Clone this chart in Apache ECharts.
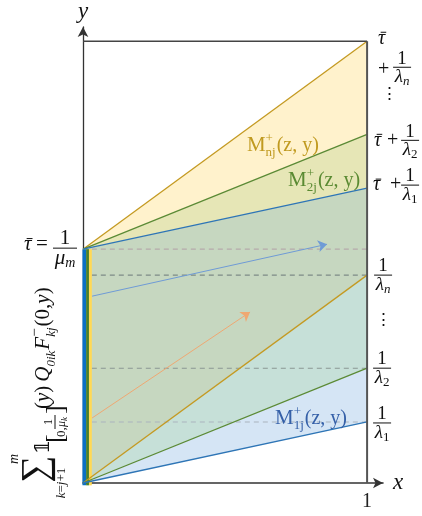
<!DOCTYPE html>
<html><head><meta charset="utf-8">
<script src="https://cdn.jsdelivr.net/npm/echarts@6/dist/echarts.min.js"></script>
<style>html,body{margin:0;padding:0;background:#fff}#c{width:422px;height:516px}</style>
</head><body><div id="c"></div>
<script>
// ---- data ----
const tauBar = 1.0;                       // τ̄ = 1/μm
const bandKeys = ['n', '2', '1'];
const invLambda = [0.889, 0.491, 0.261];  // 1/λn, 1/λ2, 1/λ1
const dashLevels = [1.0, 0.889, 0.491, 0.261];
const arrowBlue = [[0.032, 0.799], [0.859, 1.021]];
const arrowOrange = [[0.032, 0.278], [0.588, 0.731]];
const barEdges = [-0.002, 0.011, 0.021, 0.031];
const barBottom = -0.01;
const labelAnchors = [[0.577, 1.415], [0.722, 1.265], [0.676, 0.248]];
const xAxisMax = 1.056, yAxisMax = 1.95;

// ---- styles ----
const barColors = ['#0a6fc4', '#4a7f2a', '#ffd955'];
const lineColors = ['#c49a22', '#5b8a35', '#2e75b6'];
const labelColors = ['#c09a20', '#5a8a32', '#3560a8'];
const dashColors = ['#b5aaaa', '#7d8b86', '#8b9693', '#aab3bd'];
const SERIF = '"Liberation Serif","DejaVu Serif",serif';

const T = tauBar, an = invLambda[0], a2 = invLambda[1], a1 = invLambda[2];
const yTop = T + an;
const regions = [
  {pts: [[0, T], [1, T + an], [1, T + a2]], color: '#fff2cc'},
  {pts: [[0, T], [1, T + a2], [1, T + a1]], color: '#e6e6b6'},
  {pts: [[0, 0], [0, T], [1, T + a1], [1, an]], color: '#c6d7c0'},
  {pts: [[0, 0], [1, an], [1, a2]], color: '#c6e0d8'},
  {pts: [[0, 0], [1, a2], [1, a1]], color: '#d5e5f5'}
];
const bars = barColors.map((c, i) => ({pts: [[barEdges[i], barBottom], [barEdges[i + 1], barBottom], [barEdges[i + 1], T], [barEdges[i], T]], color: c}));

function polySeries(list, z) {
  return {type: 'custom', coordinateSystem: 'cartesian2d', silent: true, z: z, clip: false,
    data: list.map(r => r.pts[0]),
    renderItem: (params, api) => {
      const r = list[params.dataIndex];
      return {type: 'polygon', shape: {points: r.pts.map(p => api.coord(p))}, style: {fill: r.color}};
    }};
}
function lineS(data, color, width, z, dash) {
  return {type: 'line', data: data, symbol: 'none', silent: true, z: z,
    lineStyle: {color: color, width: width, type: dash ? [5, 4] : 'solid'}};
}

const series = [polySeries(regions, 1)];
dashLevels.forEach((v, i) => series.push(lineS([[barEdges[3], v], [1, v]], dashColors[i], 1.1, 3, true)));
series.push(polySeries(bars, 4));
invLambda.forEach((a, i) => {
  series.push(lineS([[0, T], [1, T + a]], lineColors[i], 1.3, 5));
  series.push(lineS([[0, 0], [1, a]], lineColors[i], 1.3, 5));
});
series.push(lineS([[0, yTop], [1, yTop]], '#444', 1.5, 5));
series.push(lineS([[1, 0], [1, yTop]], '#555', 2, 5));
series.push({type: 'lines', coordinateSystem: 'cartesian2d', silent: true, z: 6,
  symbol: ['none', 'arrow'], symbolSize: 9,
  data: [{coords: arrowBlue, lineStyle: {color: '#6f9bd6'}}, {coords: arrowOrange, lineStyle: {color: '#efa872'}}],
  lineStyle: {width: 1, opacity: 1}});

const chart = echarts.init(document.getElementById('c'), null, {renderer: 'canvas'});
chart.setOption({
  animation: false,
  grid: {left: 83, right: 39, top: 27, bottom: 33},
  xAxis: {type: 'value', min: 0, max: xAxisMax, interval: 0.5, splitLine: {show: false}, axisTick: {show: false},
    axisLine: {show: true, symbol: ['none', 'arrow'], symbolSize: [8, 10], lineStyle: {color: '#333', width: 1.6}},
    axisLabel: {formatter: v => (v === 1 ? '1' : ''), fontSize: 20, fontFamily: SERIF, color: '#222', margin: 9, showMaxLabel: false},
    name: 'x', nameLocation: 'end', nameGap: 10,
    nameTextStyle: {fontSize: 23, fontStyle: 'italic', fontFamily: SERIF, color: '#111'}},
  yAxis: {type: 'value', min: 0, max: yAxisMax, splitLine: {show: false}, axisTick: {show: false}, axisLabel: {show: false},
    axisLine: {show: true, symbol: ['none', 'arrow'], symbolSize: [8, 10], lineStyle: {color: '#333', width: 1.3}},
    name: 'y', nameLocation: 'end', nameGap: 4,
    nameTextStyle: {fontSize: 23, fontStyle: 'italic', fontFamily: SERIF, color: '#111'}},
  series: series
});

// ---- math text helpers ----
const ZT = 100;
const mctx = document.createElement('canvas').getContext('2d');
function F(size, it) { return (it ? 'italic ' : '') + size + 'px ' + SERIF; }
function tw(t, size, it) { mctx.font = F(size, it); return mctx.measureText(t).width; }
function TX(x, base, t, size, it, col, align) {
  return {type: 'text', x: x, y: base - 0.3 * size, silent: true, z: ZT,
    style: {text: t, font: F(size, it), fill: col || '#111', align: align || 'left', textAlign: align || 'left',
      verticalAlign: 'middle', textVerticalAlign: 'middle'}};
}
function LN(x1, y1, x2, y2, col, w) {
  return {type: 'line', silent: true, z: ZT, shape: {x1: x1, y1: y1, x2: x2, y2: y2}, style: {stroke: col || '#111', lineWidth: w || 1}};
}
function TAU(x, base, size) {
  const w = tw('τ', size, true);
  return [TX(x, base, 'τ', size, true), LN(x + 0.22 * w + 1, base - 0.6 * size, x + w + 1, base - 0.6 * size, '#111', 1)];
}
function run(x, base, items, col) {
  let els = [];
  for (const it of items) {
    x += it.dx || 0;
    if (it.stack) {
      const s = it.ss || 12;
      const w1 = it.sup ? tw(it.sup, it.supS || s, it.supIt) : 0;
      const w2 = it.sub ? tw(it.sub, s, it.subIt) : 0;
      if (it.sup) els.push(TX(x, base + (it.supDy || -9), it.sup, it.supS || s, it.supIt, col));
      if (it.sub) els.push(TX(x, base + (it.subDy || 5), it.sub, s, it.subIt, col));
      x += Math.max(w1, w2);
    } else {
      const s = it.s || 19;
      els.push(TX(x, base + (it.dy || 0), it.t, s, it.it, col));
      x += tw(it.t, s, it.it);
    }
  }
  return {els: els, x: x};
}
function runW(items) {
  let w = 0;
  items.forEach(it => { w += (it.dx || 0) + (it.stack ? Math.max(it.sup ? tw(it.sup, it.supS || it.ss || 12, it.supIt) : 0, it.sub ? tw(it.sub, it.ss || 12, it.subIt) : 0) : tw(it.t, it.s || 19, it.it)); });
  return w;
}
function frac(cx, by, numT, den, hw, ns, col) {
  ns = ns || 19;
  const ds = den[0].s;
  const els = [TX(cx, by - 3, numT, ns, false, col, 'center'), LN(cx - hw, by, cx + hw, by, col, 1)];
  const w = runW(den);
  return els.concat(run(cx - w / 2, by + ds * 0.75 + 1, den, col).els);
}
function lam(k, s) { s = s || 19; return [{t: 'λ', s: s, it: true}, {t: k, s: Math.round(s * 0.68), it: !/\d/.test(k), dy: 3}]; }

function drawText() {
  const P = p => chart.convertToPixel({gridIndex: 0}, p);
  let els = [];
  // right side: upper labels
  let R = P([1, T + an]);
  els = els.concat(TAU(R[0] + 11, R[1] + 3, 20));
  els.push(TX(R[0] + 11, R[1] + 34, '+', 20, false));
  els = els.concat(frac(R[0] + 35, R[1] + 26, '1', lam(bandKeys[0]), 9));
  els.push(TX(R[0] + 22, R[1] + 58, '⋮', 17, false, '#111', 'center'));
  R = P([1, T + a2]);
  els = els.concat(TAU(R[0] + 7, R[1] + 12, 20));
  els.push(TX(R[0] + 20, R[1] + 12, '+', 20, false));
  els = els.concat(frac(R[0] + 43, R[1] + 6, '1', lam(bandKeys[1]), 9));
  R = P([1, T + a1]);
  els = els.concat(TAU(R[0] + 6, R[1] + 3, 20));
  els.push(TX(R[0] + 23, R[1] + 3, '+', 20, false));
  els = els.concat(frac(R[0] + 43, R[1] - 3, '1', lam(bandKeys[2]), 9));
  // right side: lower labels
  R = P([1, an]);
  els = els.concat(frac(R[0] + 16, R[1], '1', lam(bandKeys[0]), 9));
  els.push(TX(R[0] + 16, R[1] + 51, '⋮', 17, false, '#111', 'center'));
  R = P([1, a2]);
  els = els.concat(frac(R[0] + 15, R[1], '1', lam(bandKeys[1]), 9));
  R = P([1, a1]);
  els = els.concat(frac(R[0] + 15, R[1] + 1, '1', lam(bandKeys[2]), 9));
  // left: τ̄ = 1/μm
  R = P([0, T]);
  els = els.concat(TAU(R[0] - 59, R[1] + 2, 21));
  els.push(TX(R[0] - 47, R[1] + 2, '=', 21, false));
  els = els.concat(frac(R[0] - 18, R[1] - 1, '1', [{t: 'μ', s: 21, it: true}, {t: 'm', s: 14, it: true, dy: 3}], 12, 21));
  // M labels
  labelAnchors.forEach((a, i) => {
    const p = P(a);
    const r = run(p[0], p[1], [{t: 'M', s: 21}, {stack: true, sup: '+', sub: bandKeys[i] + 'j', ss: 13, supDy: -10, subDy: 4},
      {t: '(z, y)', s: 20, dx: 1}], labelColors[i]);
    els = els.concat(r.els);
  });
  // rotated boundary-term label
  const O = P([0, 0]);
  let ch = [];
  ch.push(TX(41, -31, 'm', 14, true, '#111', 'center'));
  ch.push(TX(31, -2, '∑', 38, false, '#111', 'center'));
  const sub = [{t: 'k', s: 13, it: true}, {t: '=', s: 13}, {t: 'j', s: 13, it: true}, {t: '+1', s: 13}];
  ch = ch.concat(run(17 - runW(sub) / 2, 15, sub).els);
  ch.push(TX(46, 0, '𝟙', 20, false));
  ch.push(TX(57, 14, '[', 26, false));
  ch.push(TX(63, 15, '0,', 13, false));
  ch = ch.concat(frac(78, 5, '1', [{t: 'μ', s: 12, it: true}, {t: 'k', s: 9, it: true, dy: 2}], 7, 12));
  ch.push(TX(86, 14, ']', 26, false));
  ch = ch.concat(run(91, 0, [{t: '(', s: 21}, {t: 'y', s: 21, it: true}, {t: ')', s: 21},
    {t: 'Q', s: 21, it: true, dx: 4}, {stack: true, sub: '0ik', subIt: true, ss: 13, subDy: 5},
    {t: 'F', s: 21, it: true, dx: 1}, {stack: true, sup: '−', supS: 15, sub: 'kj', subIt: true, ss: 13, supDy: -10, subDy: 5},
    {t: '(0,', s: 21, dx: 1}, {t: 'y', s: 21, it: true}, {t: ')', s: 21}]).els);
  els.push({type: 'group', x: O[0] - 33, y: O[1] + 17, rotation: Math.PI / 2, z: ZT, children: ch});
  chart.setOption({graphic: {elements: els}});
}
drawText();
</script></body></html>
